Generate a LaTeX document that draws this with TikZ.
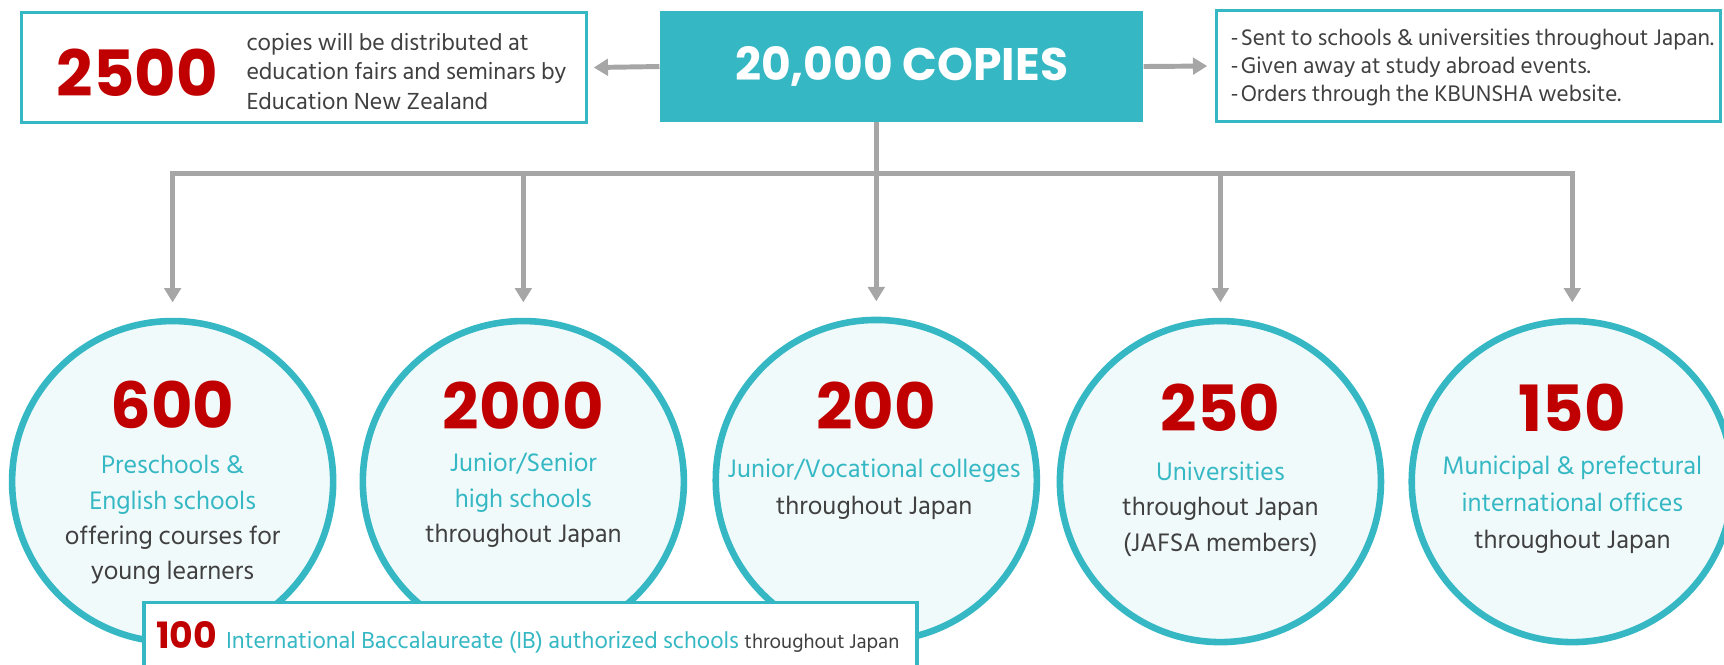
\documentclass[tikz,border=0pt]{standalone}
\usepackage{fontspec}
\usetikzlibrary{arrows.meta}
\setmainfont{Hind Siliguri}
\newfontfamily\numfont{Poppins}
\definecolor{tealc}{HTML}{35B8C4}
\definecolor{redc}{HTML}{C00000}
\definecolor{darkc}{HTML}{404040}
\definecolor{greyc}{HTML}{A6A6A6}
\definecolor{lightc}{HTML}{F1FAFB}
\tikzset{
  conn/.style={draw=greyc, line width=4.5pt},
  arr/.style={conn, -{Triangle[width=15pt,length=13pt]}},
  bignum/.style={text=redc, inner sep=0pt, font=\numfont\bfseries\fontsize{58}{60}\selectfont},
  frame/.style={draw=tealc, line width=3pt, fill=white, inner sep=0pt},
  circ/.style={circle, draw=tealc, fill=lightc, line width=6pt, minimum size=292pt, inner sep=0pt},
  ctext/.style={align=center, text=darkc, inner sep=0pt, font=\fontsize{23.6}{32}\selectfont},
  btext/.style={align=left, anchor=west, text=darkc, inner sep=0pt},
}
\begin{document}
\begin{tikzpicture}[x=1pt,y=-1pt]
\useasboundingbox (0,0) rectangle (1568,604);
% top row
\node[frame, minimum width=514pt, minimum height=100pt] (lbox) at (276.5,61.5) {};
\node[fill=tealc, minimum width=440pt, minimum height=101pt, inner sep=0pt, text=white,
      font=\numfont\bfseries\fontsize{41.5}{44}\selectfont] (top) at (820,60.5) {20,000 COPIES};
\node[frame, minimum width=458pt, minimum height=101pt] (rbox) at (1335.5,60) {};
\draw[arr, shorten >=5pt] (top.west) -- (lbox.east);
\draw[arr, shorten >=7pt] (top.east) -- (rbox.west);
\node[bignum] (n2500) at (125,66) {2500};
\node[btext, font=\fontsize{21.7}{27}\selectfont] (ltext) at (224,65)
  {copies will be distributed at\\education fairs and seminars by\\Education New Zealand};
\node[btext, font=\fontsize{21}{25.5}\selectfont] (rtext) at (1119,61)
  {-\kern2pt Sent to schools \& universities throughout Japan.\\-\kern2pt Given away at study abroad events.\\-\kern2pt Orders through the KBUNSHA website.};
% connectors
\coordinate (bus) at (797,158);
\coordinate (b1) at (157,158);
\coordinate (b2) at (476,158);
\coordinate (b3) at (797,158);
\coordinate (b4) at (1110,158);
\coordinate (b5) at (1430,158);
% circles
\node[circ] (c1) at (157,438) {};
\node[circ] (c2) at (476,438) {};
\node[circ] (c3) at (797,437) {};
\node[circ] (c4) at (1110,438) {};
\node[circ] (c5) at (1430,438) {};
\draw[conn] (top.south -| bus) -- (bus);
\draw[conn, line cap=rect] (b1) -- (b5);
\foreach \i in {1,...,5} { \draw[arr, shorten >=14pt] (b\i) -- (c\i.north); }
% circle texts
\node[bignum] (n1) at (157,368) {600};
\node[bignum] (n2) at (476,369) {2000};
\node[bignum] (n3) at (797,369) {200};
\node[bignum] (n4) at (1110,371) {250};
\node[bignum] (n5) at (1430,371) {150};
\node[ctext] (t1) at (157,473) {\textcolor{tealc}{Preschools \&}\\\textcolor{tealc}{English schools}\\offering courses for\\young learners};
\node[ctext] (t2) at (476,455) {\textcolor{tealc}{Junior/Senior}\\\textcolor{tealc}{high schools}\\throughout Japan};
\node[ctext, font=\fontsize{23.6}{34}\selectfont] (t3) at (795,445) {\textcolor{tealc}{Junior/Vocational colleges}\\throughout Japan};
\node[ctext] (t4) at (1110,463) {\textcolor{tealc}{Universities}\\throughout Japan\\(JAFSA members)};
\node[ctext, font=\fontsize{23.6}{34}\selectfont] (t5) at (1430,459) {\textcolor{tealc}{Municipal \& prefectural}\\\textcolor{tealc}{international offices}\\throughout Japan};
% IB box
\node[frame, minimum width=703pt, minimum height=80pt, anchor=north west] (ib) at (129.5,546.5) {};
\node[anchor=west, inner sep=0pt] (ibtext) at (142,580)
  {{\numfont\bfseries\fontsize{33}{33}\selectfont\color{redc}100}\hspace{8pt}{\color{tealc}\fontsize{21.6}{24}\selectfont International Baccalaureate (IB) authorized schools}\hspace{5pt}{\color{darkc}\fontsize{18.6}{20}\selectfont throughout Japan}};
\end{tikzpicture}
\end{document}
